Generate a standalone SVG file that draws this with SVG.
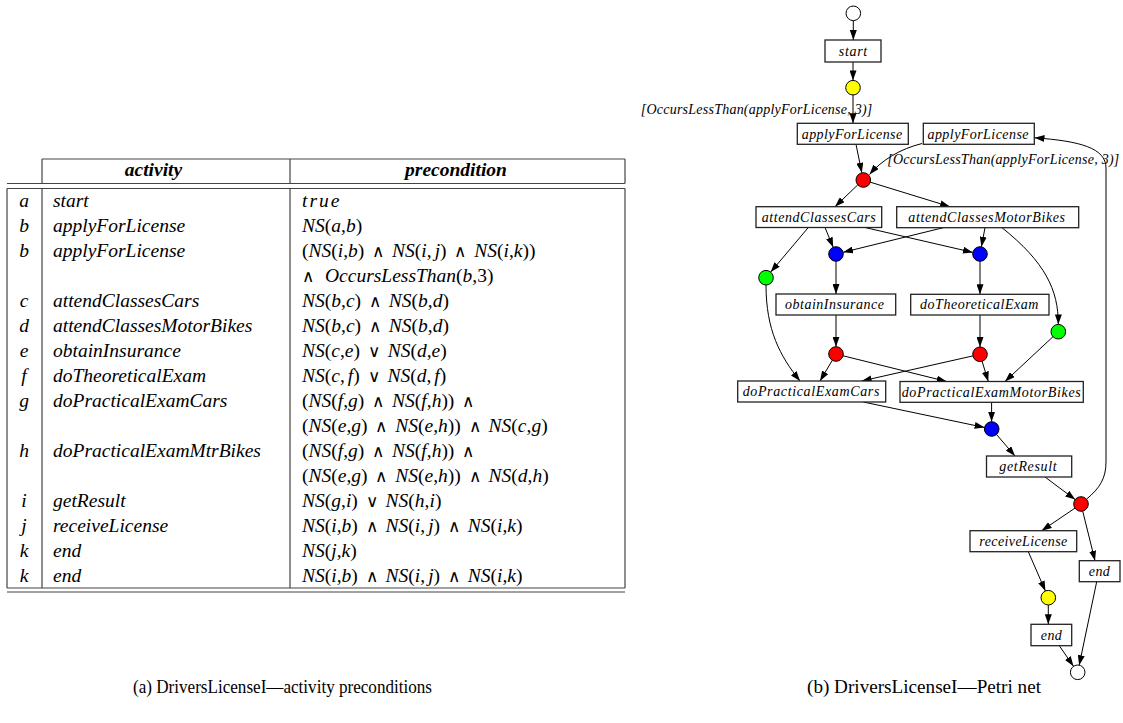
<svg xmlns="http://www.w3.org/2000/svg" width="1123" height="723" viewBox="0 0 1123 723">
<style>
.t{font-family:"Liberation Serif","Times New Roman",serif;font-size:19.5px;font-style:italic;fill:#000}
.pc{word-spacing:3px}
.u{font-style:normal}
.op{font-family:"DejaVu Sans ExtraLight","DejaVu Sans",sans-serif;font-weight:200;font-style:normal;font-size:17px}
.hd{font-weight:bold;text-anchor:middle}
.lt{text-anchor:middle}
.tl{stroke:#444;stroke-width:1.2;fill:none}
.pn{font-family:"Liberation Serif","Times New Roman",serif;font-size:14px;font-style:italic;text-anchor:middle;fill:#000}
.lbl{font-family:"Liberation Serif","Times New Roman",serif;font-size:14px;font-style:italic;fill:#000}
.box{fill:#fff;stroke:#222;stroke-width:1.3}
.pl{stroke:#000;stroke-width:1}
.arc{fill:none;stroke:#000;stroke-width:1;marker-end:url(#ah)}
.cap{font-family:"Liberation Serif","Times New Roman",serif;font-size:19px;text-anchor:middle;fill:#000}
</style>
<defs>
<marker id="ah" markerUnits="userSpaceOnUse" markerWidth="10" markerHeight="7" refX="10" refY="3.5" orient="auto">
<path d="M0,0 L10,3.5 L0,7 z" fill="#000"/>
</marker>
</defs>
<rect width="1123" height="723" fill="#fff"/>

<g id="table">
<g id="table-lines">
<path class="tl" d="M42,159 H625 M42,159 V183.5 M290,159 V183.5 M625,159 V183.5 M7,183.5 H625 M7,188.5 H625 M7,188.5 V588 M42,188.5 V588 M290,188.5 V588 M625,188.5 V588 M7,588 H625 M7,592 H625"/>
</g>
<text class="t hd" x="153.5" y="176">activity</text>
<text class="t hd" x="456" y="176">precondition</text>

<g id="col-letters">
<text class="t lt" x="24" y="207">a</text>
<text class="t lt" x="24" y="232">b</text>
<text class="t lt" x="24" y="257">b</text>
<text class="t lt" x="24" y="307">c</text>
<text class="t lt" x="24" y="332">d</text>
<text class="t lt" x="24" y="357">e</text>
<text class="t lt" x="24" y="382">f</text>
<text class="t lt" x="24" y="407">g</text>
<text class="t lt" x="24" y="457">h</text>
<text class="t lt" x="24" y="507">i</text>
<text class="t lt" x="24" y="532">j</text>
<text class="t lt" x="24" y="557">k</text>
<text class="t lt" x="24" y="582">k</text>
</g>

<g id="col-activity">
<text class="t" x="53" y="207">start</text>
<text class="t" x="53" y="232">applyForLicense</text>
<text class="t" x="53" y="257">applyForLicense</text>
<text class="t" x="53" y="307">attendClassesCars</text>
<text class="t" x="53" y="332">attendClassesMotorBikes</text>
<text class="t" x="53" y="357">obtainInsurance</text>
<text class="t" x="53" y="382">doTheoreticalExam</text>
<text class="t" x="53" y="407">doPracticalExamCars</text>
<text class="t" x="53" y="457">doPracticalExamMtrBikes</text>
<text class="t" x="53" y="507">getResult</text>
<text class="t" x="53" y="532">receiveLicense</text>
<text class="t" x="53" y="557">end</text>
<text class="t" x="53" y="582">end</text>
</g>

<g id="col-precondition">
<text class="t" x="302" y="207" letter-spacing="2">true</text>
<text class="t pc" x="302" y="232">NS<tspan class="u">(</tspan>a<tspan class="u">,</tspan>b<tspan class="u">)</tspan></text>
<text class="t pc" x="302" y="257"><tspan class="u">(</tspan>NS<tspan class="u">(</tspan>i<tspan class="u">,</tspan>b<tspan class="u">) <tspan class="op">∧</tspan> </tspan>NS<tspan class="u">(</tspan>i<tspan class="u">,</tspan><tspan dx="3">j</tspan><tspan class="u">) <tspan class="op">∧</tspan> </tspan>NS<tspan class="u">(</tspan>i<tspan class="u">,</tspan>k<tspan class="u">))</tspan></text>
<text class="t pc" x="302" y="282"><tspan class="op">∧</tspan><tspan x="325">OccursLessThan</tspan><tspan class="u">(</tspan>b<tspan class="u">,3)</tspan></text>
<text class="t pc" x="302" y="307">NS<tspan class="u">(</tspan>b<tspan class="u">,</tspan>c<tspan class="u">) <tspan class="op">∧</tspan> </tspan>NS<tspan class="u">(</tspan>b<tspan class="u">,</tspan>d<tspan class="u">)</tspan></text>
<text class="t pc" x="302" y="332">NS<tspan class="u">(</tspan>b<tspan class="u">,</tspan>c<tspan class="u">) <tspan class="op">∧</tspan> </tspan>NS<tspan class="u">(</tspan>b<tspan class="u">,</tspan>d<tspan class="u">)</tspan></text>
<text class="t pc" x="302" y="357">NS<tspan class="u">(</tspan>c<tspan class="u">,</tspan>e<tspan class="u">) <tspan class="op">∨</tspan> </tspan>NS<tspan class="u">(</tspan>d<tspan class="u">,</tspan>e<tspan class="u">)</tspan></text>
<text class="t pc" x="302" y="382">NS<tspan class="u">(</tspan>c<tspan class="u">,</tspan><tspan dx="3">f</tspan><tspan class="u">) <tspan class="op">∨</tspan> </tspan>NS<tspan class="u">(</tspan>d<tspan class="u">,</tspan><tspan dx="3">f</tspan><tspan class="u">)</tspan></text>
<text class="t pc" x="302" y="407"><tspan class="u">(</tspan>NS<tspan class="u">(</tspan>f<tspan class="u">,</tspan>g<tspan class="u">) <tspan class="op">∧</tspan> </tspan>NS<tspan class="u">(</tspan>f<tspan class="u">,</tspan>h<tspan class="u">)) <tspan class="op">∧</tspan></tspan></text>
<text class="t pc" x="302" y="432"><tspan class="u">(</tspan>NS<tspan class="u">(</tspan>e<tspan class="u">,</tspan>g<tspan class="u">) <tspan class="op">∧</tspan> </tspan>NS<tspan class="u">(</tspan>e<tspan class="u">,</tspan>h<tspan class="u">)) <tspan class="op">∧</tspan> </tspan>NS<tspan class="u">(</tspan>c<tspan class="u">,</tspan>g<tspan class="u">)</tspan></text>
<text class="t pc" x="302" y="457"><tspan class="u">(</tspan>NS<tspan class="u">(</tspan>f<tspan class="u">,</tspan>g<tspan class="u">) <tspan class="op">∧</tspan> </tspan>NS<tspan class="u">(</tspan>f<tspan class="u">,</tspan>h<tspan class="u">)) <tspan class="op">∧</tspan></tspan></text>
<text class="t pc" x="302" y="482"><tspan class="u">(</tspan>NS<tspan class="u">(</tspan>e<tspan class="u">,</tspan>g<tspan class="u">) <tspan class="op">∧</tspan> </tspan>NS<tspan class="u">(</tspan>e<tspan class="u">,</tspan>h<tspan class="u">)) <tspan class="op">∧</tspan> </tspan>NS<tspan class="u">(</tspan>d<tspan class="u">,</tspan>h<tspan class="u">)</tspan></text>
<text class="t pc" x="302" y="507">NS<tspan class="u">(</tspan>g<tspan class="u">,</tspan>i<tspan class="u">) <tspan class="op">∨</tspan> </tspan>NS<tspan class="u">(</tspan>h<tspan class="u">,</tspan>i<tspan class="u">)</tspan></text>
<text class="t pc" x="302" y="532">NS<tspan class="u">(</tspan>i<tspan class="u">,</tspan>b<tspan class="u">) <tspan class="op">∧</tspan> </tspan>NS<tspan class="u">(</tspan>i<tspan class="u">,</tspan><tspan dx="3">j</tspan><tspan class="u">) <tspan class="op">∧</tspan> </tspan>NS<tspan class="u">(</tspan>i<tspan class="u">,</tspan>k<tspan class="u">)</tspan></text>
<text class="t pc" x="302" y="557">NS<tspan class="u">(</tspan>j<tspan class="u">,</tspan>k<tspan class="u">)</tspan></text>
<text class="t pc" x="302" y="582">NS<tspan class="u">(</tspan>i<tspan class="u">,</tspan>b<tspan class="u">) <tspan class="op">∧</tspan> </tspan>NS<tspan class="u">(</tspan>i<tspan class="u">,</tspan><tspan dx="3">j</tspan><tspan class="u">) <tspan class="op">∧</tspan> </tspan>NS<tspan class="u">(</tspan>i<tspan class="u">,</tspan>k<tspan class="u">)</tspan></text>
</g>
</g>

<g id="connectors">
<path class="arc" d="M853.3,20.6 V40"/>
<path class="arc" d="M853,62 V80.4"/>
<path class="arc" d="M853,95 V123.3"/>
<path class="arc" d="M856,144.3 L861.8,172.8"/>
<path class="arc" d="M922,143.5 C900,149 882,160 869.5,174.5"/>
<path class="arc" d="M857.8,184.8 L835,206.7"/>
<path class="arc" d="M870.3,182.2 L950,206.7"/>
<path class="arc" d="M825,227.5 L833.2,247.3"/>
<path class="arc" d="M865,227.5 L972.9,252.4"/>
<path class="arc" d="M808.3,227.5 L770.7,272.1"/>
<path class="arc" d="M943.3,227.7 L843.1,252.3"/>
<path class="arc" d="M985,227.7 L981.4,246.8"/>
<path class="arc" d="M1002,227.7 C1045,262 1058.5,290 1058.3,324.4"/>
<path class="arc" d="M836,261.3 V294"/>
<path class="arc" d="M980,261.3 V294.3"/>
<path class="arc" d="M836,315 V346.7"/>
<path class="arc" d="M980,315 V347"/>
<path class="arc" d="M766,285 C766,330 780,356 800,381"/>
<path class="arc" d="M832.3,360.3 L820,381"/>
<path class="arc" d="M843.1,355.8 L946.7,381.5"/>
<path class="arc" d="M972.9,355.9 L861.7,381"/>
<path class="arc" d="M982.1,361.3 L988.3,381.5"/>
<path class="arc" d="M1053,336.7 L1005,381.5"/>
<path class="arc" d="M863.3,402 L984.6,427.5"/>
<path class="arc" d="M991.6,402.3 V421.7"/>
<path class="arc" d="M996.5,434.5 L1015,456"/>
<path class="arc" d="M1045,477 L1075.2,499.6"/>
<path class="arc" d="M1086.5,499.2 C1100,488 1106,478 1106,462 L1106,168 C1106,148 1080,141 1034.5,137.8"/>
<path class="arc" d="M1075,508.1 L1041.7,530.7"/>
<path class="arc" d="M1082.7,511.1 L1095,560.7"/>
<path class="arc" d="M1028.3,551.7 L1045.4,591"/>
<path class="arc" d="M1048.3,605 V624.3"/>
<path class="arc" d="M1059.3,645.7 L1073.5,666.3"/>
<path class="arc" d="M1096.7,581.7 L1079.2,665.2"/>
<text class="lbl" x="640.7" y="114" textLength="231.6" lengthAdjust="spacing">[OccursLessThan(applyForLicense, 3)]</text>
<text class="lbl" x="887.3" y="164" textLength="232" lengthAdjust="spacing">[OccursLessThan(applyForLicense, 3)]</text>
</g>

<g id="p-start"><circle class="pl" cx="853.3" cy="13.3" r="7.3" fill="#fff"/></g>
<g id="p-after-start"><circle class="pl" cx="853" cy="87.7" r="7.3" fill="#ffff00"/></g>
<g id="p-after-apply"><circle class="pl" cx="863.3" cy="180" r="7.3" fill="#ff0000"/></g>
<g id="p-blue-left"><circle class="pl" cx="836" cy="254" r="7.3" fill="#0000ff"/></g>
<g id="p-blue-right"><circle class="pl" cx="980" cy="254" r="7.3" fill="#0000ff"/></g>
<g id="p-green-left"><circle class="pl" cx="766" cy="277.7" r="7.3" fill="#00ff00"/></g>
<g id="p-green-right"><circle class="pl" cx="1058.3" cy="331.7" r="7.3" fill="#00ff00"/></g>
<g id="p-red-left"><circle class="pl" cx="836" cy="354" r="7.3" fill="#ff0000"/></g>
<g id="p-red-right"><circle class="pl" cx="980" cy="354.3" r="7.3" fill="#ff0000"/></g>
<g id="p-blue-bottom"><circle class="pl" cx="991.7" cy="429" r="7.3" fill="#0000ff"/></g>
<g id="p-red-bottom"><circle class="pl" cx="1081" cy="504" r="7.3" fill="#ff0000"/></g>
<g id="p-yellow-bottom"><circle class="pl" cx="1048.3" cy="597.7" r="7.3" fill="#ffff00"/></g>
<g id="p-end"><circle class="pl" cx="1077.7" cy="672.3" r="7.3" fill="#fff"/></g>

<g id="t-start"><rect class="box" x="825" y="40" width="56" height="22"/><text class="pn" x="853" y="56" textLength="28.3" lengthAdjust="spacing">start</text></g>
<g id="t-apply1"><rect class="box" x="797.3" y="123.3" width="111" height="21"/><text class="pn" x="852" y="138.5" textLength="100.3" lengthAdjust="spacing">applyForLicense</text></g>
<g id="t-apply2"><rect class="box" x="923.3" y="123.3" width="111" height="21"/><text class="pn" x="978" y="138.5" textLength="101" lengthAdjust="spacing">applyForLicense</text></g>
<g id="t-acc"><rect class="box" x="756" y="206.7" width="125.7" height="20.8"/><text class="pn" x="818.7" y="221.8" textLength="114" lengthAdjust="spacing">attendClassesCars</text></g>
<g id="t-acmb"><rect class="box" x="896.7" y="206.7" width="182" height="21"/><text class="pn" x="986.7" y="221.8" textLength="156.7" lengthAdjust="spacing">attendClassesMotorBikes</text></g>
<g id="t-oi"><rect class="box" x="776" y="294" width="119.7" height="21"/><text class="pn" x="834.5" y="309.2" textLength="99" lengthAdjust="spacing">obtainInsurance</text></g>
<g id="t-dte"><rect class="box" x="910.7" y="294.3" width="138.3" height="20.7"/><text class="pn" x="979.2" y="309.2" textLength="118.3" lengthAdjust="spacing">doTheoreticalExam</text></g>
<g id="t-dpec"><rect class="box" x="737.7" y="381" width="148" height="21"/><text class="pn" x="811" y="396.3" textLength="136.7" lengthAdjust="spacing">doPracticalExamCars</text></g>
<g id="t-dpemb"><rect class="box" x="900" y="381.5" width="183.3" height="20.8"/><text class="pn" x="991.2" y="396.5" textLength="179" lengthAdjust="spacing">doPracticalExamMotorBikes</text></g>
<g id="t-gr"><rect class="box" x="986.5" y="456" width="85.2" height="21"/><text class="pn" x="1028" y="471" textLength="57.3" lengthAdjust="spacing">getResult</text></g>
<g id="t-rl"><rect class="box" x="970" y="530.7" width="106.7" height="21"/><text class="pn" x="1023.3" y="545.8" textLength="88" lengthAdjust="spacing">receiveLicense</text></g>
<g id="t-end1"><rect class="box" x="1079.3" y="560.7" width="40.7" height="21"/><text class="pn" x="1099.3" y="575.8" textLength="21" lengthAdjust="spacing">end</text></g>
<g id="t-end2"><rect class="box" x="1031" y="624.3" width="40.7" height="21.4"/><text class="pn" x="1051.3" y="639.6" textLength="21" lengthAdjust="spacing">end</text></g>

<g id="captions">
<text class="cap" x="282.5" y="693" textLength="299" lengthAdjust="spacingAndGlyphs">(a) DriversLicenseI—activity preconditions</text>
<text class="cap" x="924" y="693" textLength="234" lengthAdjust="spacingAndGlyphs">(b) DriversLicenseI—Petri net</text>
</g>
</svg>
